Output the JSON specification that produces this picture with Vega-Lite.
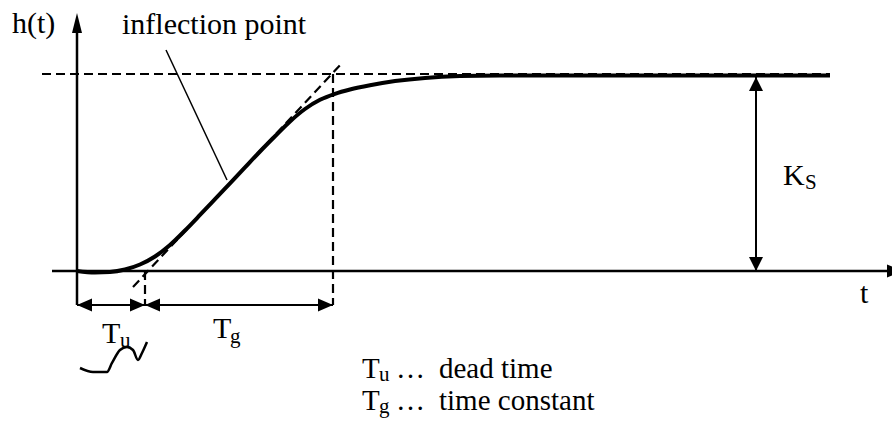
{
  "$schema": "https://vega.github.io/schema/vega-lite/v6.json",
  "width": 892,
  "height": 423,
  "autosize": {"type": "fit", "contains": "padding"},
  "padding": 0,
  "background": "white",
  "config": {"view": {"stroke": null}, "text": {"font": "'Liberation Serif', 'Times New Roman', serif"}},
  "datasets": {
    "response": [
      {"t": 0, "h": 0},
      {"t": 0.9, "h": -0.0076},
      {"t": 1.65, "h": -0.0051},
      {"t": 2.4, "h": 0.0076},
      {"t": 3.15, "h": 0.033},
      {"t": 3.9, "h": 0.0736},
      {"t": 4.65, "h": 0.132},
      {"t": 5.4, "h": 0.2056},
      {"t": 6.15, "h": 0.2843},
      {"t": 6.9, "h": 0.3645},
      {"t": 7.65, "h": 0.4452},
      {"t": 8.4, "h": 0.5259},
      {"t": 9.15, "h": 0.6066},
      {"t": 9.9, "h": 0.6838},
      {"t": 10.65, "h": 0.7589},
      {"t": 11.4, "h": 0.8223},
      {"t": 12.15, "h": 0.869},
      {"t": 12.9, "h": 0.8995},
      {"t": 13.65, "h": 0.9213},
      {"t": 14.65, "h": 0.9431},
      {"t": 15.9, "h": 0.964},
      {"t": 17.4, "h": 0.9802},
      {"t": 19.15, "h": 0.9893},
      {"t": 21.15, "h": 0.9919},
      {"t": 37.65, "h": 0.9924}
    ],
    "scribble": [
      {"t": 0.15, "h": -0.4924},
      {"t": 0.8, "h": -0.5127},
      {"t": 1.5, "h": -0.5127},
      {"t": 1.75, "h": -0.467},
      {"t": 2.15, "h": -0.401},
      {"t": 2.5, "h": -0.3858},
      {"t": 2.8, "h": -0.401},
      {"t": 3.05, "h": -0.4518},
      {"t": 3.25, "h": -0.4162},
      {"t": 3.5, "h": -0.3604}
    ],
    "solid": [
      {"t": -1.25, "h": 0, "t2": 41.5, "h2": 0, "kind": "axis"},
      {"t": 0, "h": -0.1726, "t2": 0, "h2": 1.21, "kind": "axis"},
      {"t": 0, "h": -0.1726, "t2": 3.4, "h2": -0.1726, "kind": "dim"},
      {"t": 3.4, "h": -0.1726, "t2": 12.8, "h2": -0.1726, "kind": "dim"},
      {"t": 33.95, "h": 0, "t2": 33.95, "h2": 0.985, "kind": "dim"},
      {"t": 4.45, "h": 1.1218, "t2": 7.5, "h2": 0.4619, "kind": "leader"}
    ],
    "dashed": [
      {"t": -1.75, "h": 1, "t2": 37.65, "h2": 1},
      {"t": 2.8, "h": -0.0812, "t2": 13.3, "h2": 1.0609},
      {"t": 12.8, "h": 1, "t2": 12.8, "h2": -0.1726},
      {"t": 3.4, "h": 0, "t2": 3.4, "h2": -0.1726}
    ],
    "heads": [
      {"t": 0, "h": 1.3096, "dir": "upLong"},
      {"t": 41.25, "h": 0, "dir": "right"},
      {"t": 0, "h": -0.1726, "dir": "left"},
      {"t": 3.4, "h": -0.1726, "dir": "right"},
      {"t": 3.4, "h": -0.1726, "dir": "left"},
      {"t": 12.8, "h": -0.1726, "dir": "right"},
      {"t": 33.95, "h": 0.985, "dir": "up"},
      {"t": 33.95, "h": 0, "dir": "down"}
    ],
    "labels": [
      {"t": -3.25, "h": 1.2081, "text": "h(t)", "role": "main"},
      {"t": 2.25, "h": 1.203, "text": "inflection point", "role": "main"},
      {"t": 1.25, "h": -0.3655, "text": "T", "role": "main"},
      {"t": 2.15, "h": -0.3858, "text": "u", "role": "sub"},
      {"t": 6.8, "h": -0.3401, "text": "T", "role": "main"},
      {"t": 7.65, "h": -0.3655, "text": "g", "role": "sub"},
      {"t": 35.3, "h": 0.4365, "text": "K", "role": "main"},
      {"t": 36.4, "h": 0.4162, "text": "S", "role": "sub"},
      {"t": 39.15, "h": -0.1624, "text": "t", "role": "main"},
      {"t": 14.25, "h": -0.5431, "text": "T", "role": "legend"},
      {"t": 15.1, "h": -0.5584, "text": "u", "role": "sub"},
      {"t": 15.95, "h": -0.5431, "text": "…", "role": "legend"},
      {"t": 18.1, "h": -0.5431, "text": "dead time", "role": "legend"},
      {"t": 14.25, "h": -0.7056, "text": "T", "role": "legend"},
      {"t": 15.1, "h": -0.7208, "text": "g", "role": "sub"},
      {"t": 15.95, "h": -0.7056, "text": "…", "role": "legend"},
      {"t": 18.1, "h": -0.7056, "text": "time constant", "role": "legend"}
    ]
  },
  "encoding": {
    "x": {"field": "t", "type": "quantitative", "axis": null,
          "scale": {"domain": [-3.85, 40.75], "nice": false, "zero": false}},
    "y": {"field": "h", "type": "quantitative", "axis": null,
          "scale": {"domain": [-0.7716, 1.3756], "nice": false, "zero": false}}
  },
  "layer": [
    {
      "data": {"name": "dashed"},
      "mark": {"type": "rule", "color": "black", "strokeWidth": 2.2, "strokeDash": [9, 5]},
      "encoding": {"x2": {"field": "t2"}, "y2": {"field": "h2"}}
    },
    {
      "data": {"name": "solid"},
      "mark": {"type": "rule", "color": "black", "clip": true},
      "encoding": {
        "x2": {"field": "t2"},
        "y2": {"field": "h2"},
        "strokeWidth": {"field": "kind", "type": "nominal", "legend": null,
          "scale": {"type": "ordinal", "domain": ["axis", "dim", "leader"], "range": [2.5, 2, 1.5]}}
      }
    },
    {
      "data": {"name": "response"},
      "mark": {"type": "line", "color": "black", "strokeWidth": 4, "interpolate": "monotone"},
      "encoding": {}
    },
    {
      "data": {"name": "scribble"},
      "mark": {"type": "line", "color": "black", "strokeWidth": 2.5, "interpolate": "monotone"},
      "encoding": {}
    },
    {
      "data": {"name": "heads"},
      "mark": {"type": "point", "filled": true, "color": "black", "opacity": 1, "size": 1600, "strokeWidth": 0, "clip": true},
      "encoding": {
        "shape": {"field": "dir", "type": "nominal", "legend": null,
          "scale": {"domain": ["upLong", "up", "down", "left", "right"],
                    "range": ["M0,0L-0.25,1L0.25,1Z", "M0,0L-0.35,0.7L0.35,0.7Z", "M0,0L-0.35,-0.7L0.35,-0.7Z", "M0,0L0.75,-0.33L0.75,0.33Z", "M0,0L-0.75,-0.33L-0.75,0.33Z"]}}
      }
    },
    {
      "data": {"name": "labels"},
      "mark": {"type": "text", "font": "'Liberation Serif', 'Times New Roman', serif", "color": "black", "align": "left", "baseline": "alphabetic"},
      "encoding": {
        "text": {"field": "text"},
        "size": {"field": "role", "type": "nominal", "legend": null,
          "scale": {"type": "ordinal", "domain": ["main", "legend", "sub"], "range": [30, 29, 21]}}
      }
    }
  ]
}
